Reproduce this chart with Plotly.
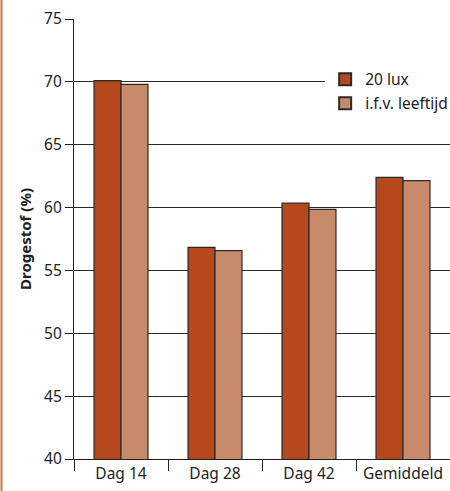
import plotly.graph_objects as go

categories = ["Dag 14", "Dag 28", "Dag 42", "Gemiddeld"]
series_names = ["20 lux", "i.f.v. leeftijd"]
lux20 = [70.1, 56.83, 60.35, 62.4]
leeftijd = [69.8, 56.57, 59.85, 62.15]
y_ticks = [40, 45, 50, 55, 60, 65, 70, 75]

FONT = "Noto Sans"
fig = go.Figure()
fig.add_trace(go.Bar(x=categories, y=lux20, name=series_names[0], legendgroup="a",
                     marker=dict(color="#b5481d", line=dict(color="#2a2a2a", width=1.2))))
fig.add_trace(go.Bar(x=categories, y=leeftijd, name=series_names[1], legendgroup="b",
                     marker=dict(color="#c78b6b", line=dict(color="#2a2a2a", width=1.2))))

fig.update_layout(
    width=450, height=491,
    margin=dict(l=74, r=0, t=19, b=32, autoexpand=False),
    paper_bgcolor="white", plot_bgcolor="white",
    barmode="group", bargap=0.426, bargroupgap=0,
    font=dict(family=FONT, size=15, color="#222"),
    showlegend=True,
    legend=dict(x=0.668, y=0.901, xanchor="left", yanchor="top",
                bgcolor="white", font=dict(size=15.5, color="#222"),
                itemsizing="constant", tracegroupgap=1, itemwidth=30),
    xaxis=dict(type="category", range=[-0.5, 3.5], showline=True, linecolor="#222",
               linewidth=1.2, ticks="outside", tickson="boundaries", ticklen=11,
               tickcolor="#222", tickfont=dict(size=15.5, color="#222"), showgrid=False,
               tickangle=0, automargin=False),
    yaxis=dict(range=[40, 75], tickvals=y_ticks, showline=True, linecolor="#222",
               linewidth=1.2, ticks="outside", ticklen=8, tickcolor="#222",
               tickfont=dict(size=15.5, color="#222"), showgrid=True, gridcolor="#2a2a2a",
               gridwidth=1.2, zeroline=False, automargin=False,
               title=dict(text="<b>Drogestof (%)</b>", font=dict(size=15, color="#222"),
                          standoff=8)),
    shapes=[dict(type="line", xref="paper", yref="paper",
                 x0=(1.5 - 74) / 376, x1=(1.5 - 74) / 376, y0=-32 / 440, y1=(491 - 32) / 440,
                 line=dict(color="#d0703f", width=2))],
)

fig.write_html("out.html", config={"displayModeBar": False},
               post_script="document.body.style.margin='0';")
